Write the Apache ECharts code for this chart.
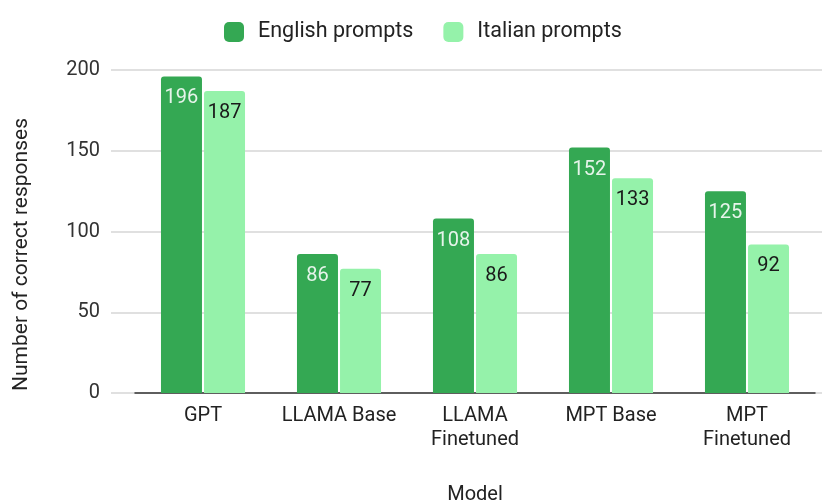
<!DOCTYPE html>
<html>
<head>
<meta charset="utf-8">
<script src="https://cdn.jsdelivr.net/npm/echarts@6/dist/echarts.min.js"></script>
<style>
  html, body { margin: 0; padding: 0; background: #fff; }
  #chart { width: 830px; height: 503px; }
</style>
</head>
<body>
<div id="chart"></div>
<script>
// data
var models = ['GPT', 'LLAMA Base', 'LLAMA\nFinetuned', 'MPT Base', 'MPT\nFinetuned'];
var englishVals = [196, 86, 108, 152, 125];
var italianVals = [187, 77, 86, 133, 92];
var yTicks = [0, 50, 100, 150, 200];

var font = 'Roboto, "Liberation Sans", sans-serif';
var chart = echarts.init(document.getElementById('chart'));

var option = {
  animation: false,
  textStyle: { fontFamily: font },
  legend: {
    top: 16,
    left: 219,
    itemWidth: 20,
    itemHeight: 20,
    itemGap: 30,
    icon: 'roundRect',
    textStyle: { fontSize: 21.5, color: '#222', fontFamily: font, padding: [0, 0, 0, 9] },
    data: ['English prompts', 'Italian prompts']
  },
  // grid 0 only carries the y axis + gridlines (wider), grid 1 holds the bars
  grid: [
    { left: 111, right: 8, top: 70, bottom: 110, outerBoundsMode: 'none', containLabel: false },
    { left: 135, right: 15, top: 70, bottom: 110, outerBoundsMode: 'none', containLabel: false }
  ],
  xAxis: [
    { type: 'value', gridIndex: 0, show: false, min: 0, max: 1 },
    {
      type: 'category', gridIndex: 1, data: models,
      name: 'Model', nameLocation: 'middle', nameGap: 92,
      nameTextStyle: { fontSize: 20, color: '#222', fontFamily: font },
      axisLine: { lineStyle: { color: '#333', width: 1.5 } },
      axisTick: { show: false },
      axisLabel: { interval: 0, hideOverlap: false, fontSize: 20, color: '#222', margin: 11, lineHeight: 24, fontFamily: font }
    }
  ],
  yAxis: [
    {
      type: 'value', gridIndex: 0, min: yTicks[0], max: yTicks[yTicks.length - 1], interval: 50,
      name: 'Number of correct responses', nameLocation: 'middle', nameGap: 79,
      nameTextStyle: { fontSize: 21, color: '#222', fontFamily: font, padding: [0, 46, 0, 0] },
      axisLine: { show: false },
      axisTick: { show: false },
      axisLabel: { fontSize: 20, color: '#333', margin: 11, fontFamily: font },
      splitLine: { lineStyle: { color: '#d6d6d6', width: 1.5 } }
    },
    {
      type: 'value', gridIndex: 1, min: yTicks[0], max: yTicks[yTicks.length - 1], interval: 50,
      show: false, splitLine: { show: false }
    }
  ],
  series: [
    {
      name: 'English prompts', type: 'bar', xAxisIndex: 1, yAxisIndex: 1,
      data: englishVals, barWidth: 41, barGap: '5%',
      itemStyle: { color: '#34a853', borderRadius: [3, 3, 0, 0] },
      label: { show: true, position: 'insideTop', distance: 12, fontSize: 20, color: '#e6f4ea', fontFamily: font }
    },
    {
      name: 'Italian prompts', type: 'bar', xAxisIndex: 1, yAxisIndex: 1,
      data: italianVals, barWidth: 41,
      itemStyle: { color: '#95f2aa', borderRadius: [3, 3, 0, 0] },
      label: { show: true, position: 'insideTop', distance: 12, fontSize: 20, color: '#1a1a1a', fontFamily: font }
    }
  ]
};
chart.setOption(option);
</script>
</body>
</html>
